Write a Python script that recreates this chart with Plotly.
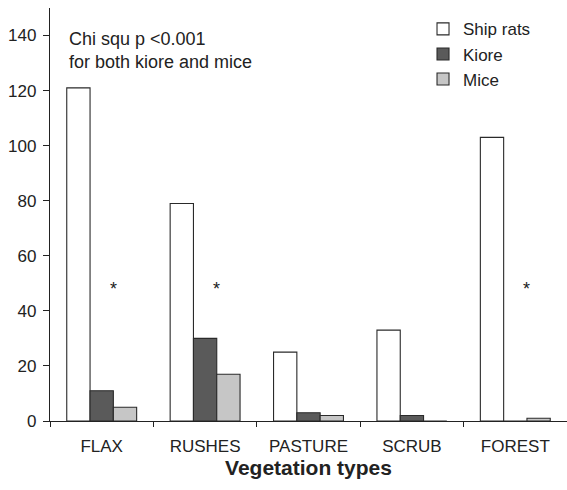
import plotly.graph_objects as go

categories = ["FLAX", "RUSHES", "PASTURE", "SCRUB", "FOREST"]
ship_rats = [121, 79, 25, 33, 103]
kiore = [11, 30, 3, 2, 0]
mice = [5, 17, 2, 0, 1]
y_ticks = [0, 20, 40, 60, 80, 100, 120, 140]
star_categories = [0, 1, 4]
star_value = 48
note_text = "Chi squ p <0.001<br>for both kiore and mice"

FONT = "Liberation Sans, Arial, Helvetica, sans-serif"
EDGE = "#2a2a2a"

fig = go.Figure()
for name, vals, col in [("Ship rats", ship_rats, "#ffffff"),
                        ("Kiore", kiore, "#5a5a5a"),
                        ("Mice", mice, "#c6c6c6")]:
    fig.add_trace(go.Bar(x=categories, y=vals, name=name,
                         marker=dict(color=col, line=dict(color=EDGE, width=1.1))))

for c in star_categories:
    fig.add_annotation(x=c + 0.11, y=star_value, xref="x", yref="y", text="*",
                       showarrow=False, font=dict(family=FONT, size=18, color="#222"),
                       xanchor="center", yanchor="middle")

fig.add_annotation(x=0.033, y=134.5, xref="paper", yref="y", text=note_text,
                   showarrow=False, align="left", xanchor="left", yanchor="middle",
                   font=dict(family=FONT, size=18, color="#222"))

fig.update_layout(
    width=567, height=490,
    margin=dict(l=50, r=0, t=8, b=69),
    paper_bgcolor="white", plot_bgcolor="white",
    barmode="group", bargap=0.324, bargroupgap=0,
    font=dict(family=FONT, size=17, color="#222"),
    legend=dict(x=0.7215, y=0.992, xanchor="left", yanchor="top",
                font=dict(family=FONT, size=17, color="#222"),
                bgcolor="rgba(0,0,0,0)", tracegroupgap=0),
    xaxis=dict(range=[-0.5, 4.5], showline=True, linecolor="#222", linewidth=1.3,
               ticks="outside", tickson="boundaries", ticklen=5, tickcolor="#222",
               tickwidth=1.3, showgrid=False, zeroline=False, ticklabelstandoff=9,
               tickfont=dict(family=FONT, size=17, color="#222"),
               title=dict(text="<b>Vegetation types</b>", standoff=4,
                          font=dict(family=FONT, size=21, color="#222"))),
    yaxis=dict(range=[0, 150], showline=True, linecolor="#222", linewidth=1.3,
               ticks="outside", ticklen=6, tickcolor="#222", tickwidth=1.3,
               tickvals=y_ticks, showgrid=False, zeroline=False, ticklabelstandoff=3,
               tickfont=dict(family=FONT, size=17, color="#222")),
)

fig.write_html("out.html")
